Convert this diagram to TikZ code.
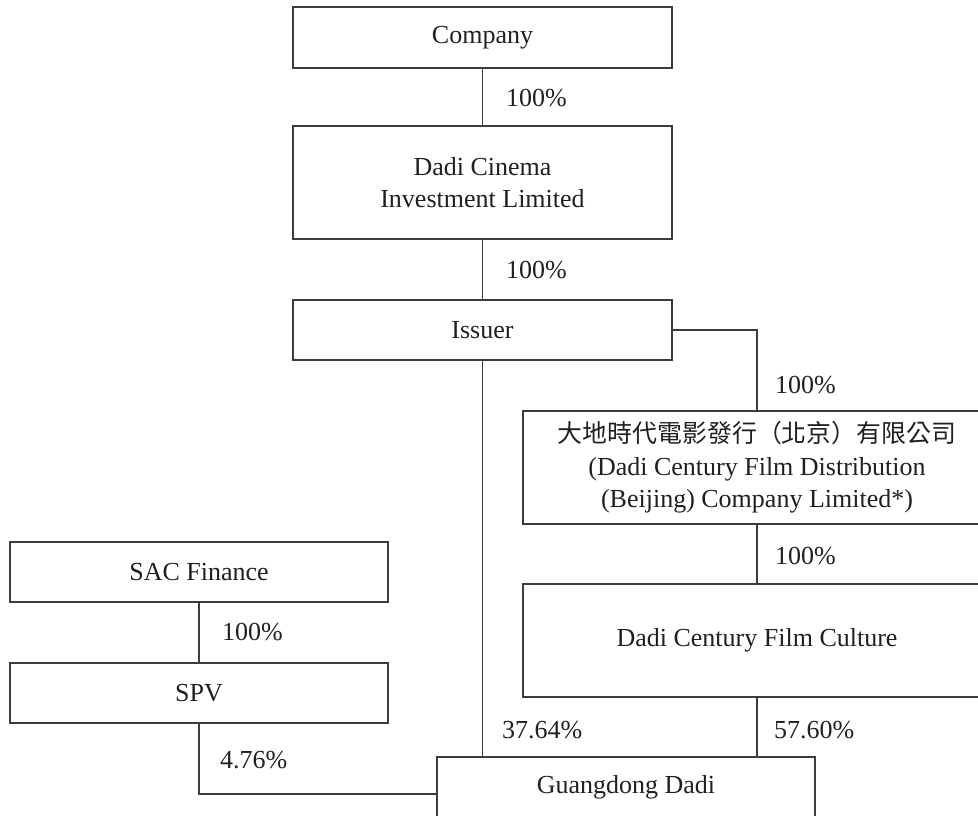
\documentclass[tikz,border=0pt]{standalone}
\usepackage{fontspec}
\setmainfont{Liberation Serif}
\newfontfamily\cjk{Noto Sans CJK TC}
\begin{document}
\begin{tikzpicture}[x=1pt,y=-1pt,
  box/.style={draw=linegray,line width=1.2pt,rectangle,align=center,inner sep=0pt,text=txt,
    font=\fontsize{26}{32.5}\selectfont},
  conn/.style={draw=linegray,line width=1.2pt},
  pct/.style={anchor=west,inner sep=0pt,text=txt,font=\fontsize{26}{32.5}\selectfont}]
\definecolor{linegray}{HTML}{3C3C3C}
\definecolor{txt}{HTML}{231F20}
\useasboundingbox (0,0) rectangle (978,816);
\clip (0,0) rectangle (978,816);
\node[box,minimum width=379pt,minimum height=61pt] (company) at (482.5,37.5) {Company};
\node[box,minimum width=379pt,minimum height=113pt] (dadi) at (482.5,182.5) {Dadi Cinema\\Investment Limited};
\node[box,minimum width=379pt,minimum height=60pt] (issuer) at (482.5,330) {Issuer};
\node[box,minimum width=468pt,minimum height=113pt] (cn) at (757,467.5) {{\cjk\fontsize{24.9}{32.5}\selectfont 大地時代電影發行（北京）有限公司}\\(Dadi Century Film Distribution\\(Beijing) Company Limited*)};
\node[box,minimum width=468pt,minimum height=113pt] (film) at (757,640.5) {Dadi Century Film Culture};
\node[box,minimum width=378pt,minimum height=60pt] (sac) at (199,572) {SAC Finance};
\node[box,minimum width=378pt,minimum height=60pt] (spv) at (199,693) {SPV};
\node[box,minimum width=378pt,minimum height=60pt] (gd) at (626,787) {Guangdong Dadi};
\coordinate (gdin) at ([yshift=-7pt]gd.west);
% connectors
\draw[conn] (company.south) -- (dadi.north);
\draw[conn] (dadi.south) -- (issuer.north);
\draw[conn] (issuer.east) -| (cn.north);
\draw[conn] (issuer.south) -- (issuer.south |- gd.north);
\draw[conn] (cn.south) -- (film.north);
\draw[conn] (film.south) -- (film.south |- gd.north);
\draw[conn] (sac.south) -- (spv.north);
\draw[conn] (spv.south) |- (gdin);
% labels
\node[pct] (l1) at (506,98) {100\%};
\node[pct] (l2) at (506,270) {100\%};
\node[pct] (l3) at (775,385) {100\%};
\node[pct] (l4) at (775,556) {100\%};
\node[pct] (l5) at (222,632) {100\%};
\node[pct] (l6) at (502,730) {37.64\%};
\node[pct] (l7) at (774,730) {57.60\%};
\node[pct] (l8) at (220,760) {4.76\%};
\end{tikzpicture}
\end{document}
